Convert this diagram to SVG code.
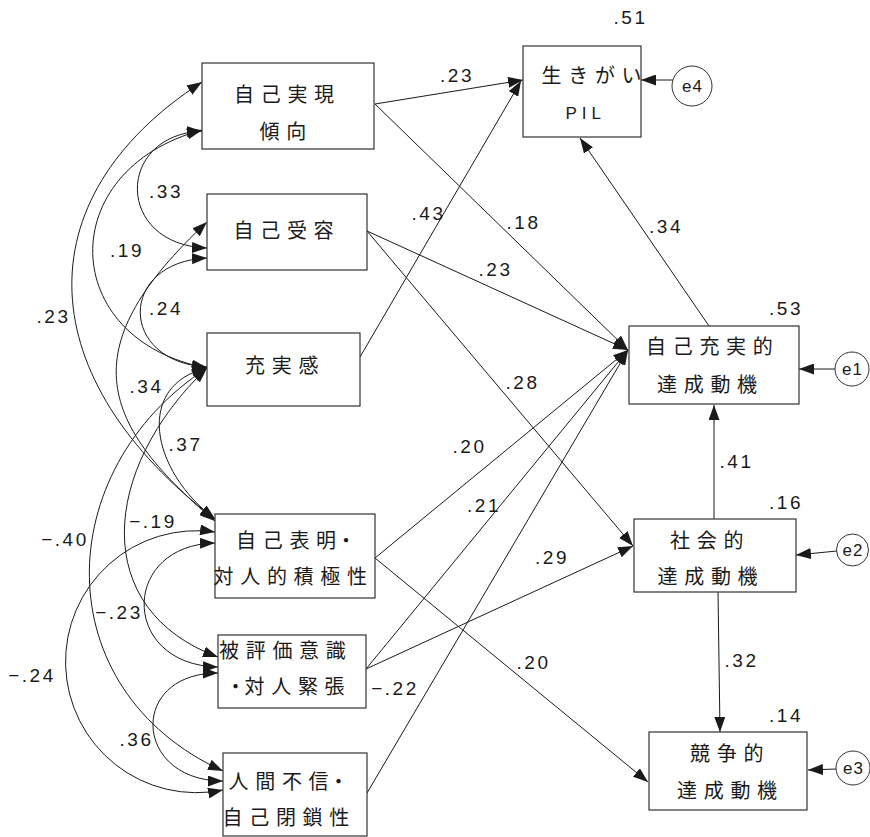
<svg xmlns="http://www.w3.org/2000/svg" width="870" height="837" viewBox="0 0 870 837">
<style>
.box{fill:#fff;stroke:#333;stroke-width:1.2}
.n{font-family:"Liberation Sans","Noto Sans CJK JP",sans-serif;font-size:20px;letter-spacing:6.7px;fill:#1a1a1a}
.lat{font-family:"Liberation Sans",Arial,sans-serif;font-size:17px;letter-spacing:5px;fill:#1a1a1a}
.lbl{font-family:"Liberation Sans",Arial,sans-serif;font-size:19px;letter-spacing:2.5px;text-anchor:middle;fill:#1a1a1a}
.e{font-family:"Liberation Sans",Arial,sans-serif;font-size:17px;letter-spacing:1px;text-anchor:middle;fill:#1a1a1a}
.err{fill:#fff;stroke:#333;stroke-width:1}
.c{fill:none;stroke:#1a1a1a;stroke-width:1}
.d{marker-start:url(#ah);marker-end:url(#ah)}
.a{marker-end:url(#ah)}
.t0{letter-spacing:0}
.tm{letter-spacing:-1px}
</style>
<defs>
<marker id="ah" markerUnits="userSpaceOnUse" markerWidth="15" markerHeight="11" refX="15" refY="5.5" orient="auto-start-reverse" viewBox="0 0 15 11">
<path d="M0,0 L15,5.5 L0,11 z" fill="#1a1a1a"/>
</marker>
</defs>
<rect width="870" height="837" fill="#fff"/>

<g id="connectors">
<!-- correlations -->
<path class="c d" d="M202,131 C115,135 115,245 207,248"/>
<path class="c d" d="M207,258 C118,262 118,362 207,367"/>
<path class="c d" d="M202,130 C53,170 58,340 207,368"/>
<path class="c d" d="M202,82 C20,200 33,380 215,519"/>
<path class="c d" d="M207,222 C75,345 95,420 215,521"/>
<path class="c d" d="M207,368 C135,385 150,470 215,519"/>
<path class="c d" d="M207,368 C100,470 90,610 218,657"/>
<path class="c d" d="M207,368 C50,470 45,690 223,771"/>
<path class="c d" d="M215,543 C120,545 120,665 218,667"/>
<path class="c d" d="M215,532 A131,131 0 1 0 223,790"/>
<path class="c d" d="M218,673 C128,673 133,781 223,781"/>
<!-- paths -->
<path class="c a" d="M375,104 L523,80"/>
<path class="c a" d="M375,104 L628,350"/>
<path class="c a" d="M367,231 L628,350"/>
<path class="c a" d="M367,231 L633,546"/>
<path class="c a" d="M360,357 L521,81"/>
<path class="c a" d="M709,326 L580,138"/>
<path class="c a" d="M714,519 L714,405"/>
<path class="c a" d="M718,592 L720,732"/>
<path class="c a" d="M375,558 L628,350"/>
<path class="c a" d="M375,558 L648,782"/>
<path class="c a" d="M366,669 L628,350"/>
<path class="c a" d="M366,669 L633,546"/>
<path class="c a" d="M367,793 L628,350"/>
<path class="c a" d="M673,80 L641,80"/>
<path class="c a" d="M835,369 L799,369"/>
<path class="c a" d="M837,551 L796,555"/>
<path class="c a" d="M836,769 L808,770"/>
</g>

<g id="n_jikojitsugen">
<rect class="box" x="202" y="63" width="172" height="86"/>
<text class="n" x="234" y="102">自己実現</text>
<text class="n" x="259.5" y="139">傾向</text>
</g>
<g id="n_jikojuyou">
<rect class="box" x="207" y="194" width="160" height="76"/>
<text class="n" x="233.5" y="238">自己受容</text>
</g>
<g id="n_juujitsukan">
<rect class="box" x="207" y="333" width="153" height="73"/>
<text class="n" x="245" y="373">充実感</text>
</g>
<g id="n_jikohyoumei">
<rect class="box" x="215" y="514" width="160" height="84"/>
<text class="n" x="236" y="548">自己表<tspan class="t0">明</tspan>・</text>
<text class="n" x="213.5" y="584">対人的積極性</text>
</g>
<g id="n_hihyouka">
<rect class="box" x="218" y="635" width="148" height="73"/>
<text class="n" x="219" y="658">被評価意識</text>
<text class="n" x="225.5" y="694"><tspan class="tm">・</tspan>対人緊張</text>
</g>
<g id="n_ningenfushin">
<rect class="box" x="223" y="753" width="144" height="83"/>
<text class="n" x="228.5" y="789">人間不<tspan class="t0">信</tspan>・</text>
<text class="n" x="222.5" y="825">自己閉鎖性</text>
</g>
<g id="n_ikigai">
<rect class="box" x="523" y="46" width="118" height="91"/>
<text class="n" x="541.5" y="83">生きがい</text>
<text class="lat" x="565.5" y="119">PIL</text>
</g>
<g id="n_jikojuujitsu">
<rect class="box" x="629" y="326" width="170" height="78"/>
<text class="n" x="646" y="354">自己充実的</text>
<text class="n" x="657" y="392">達成動機</text>
</g>
<g id="n_shakaiteki">
<rect class="box" x="634" y="519" width="162" height="73"/>
<text class="n" x="670" y="548">社会的</text>
<text class="n" x="657.5" y="584">達成動機</text>
</g>
<g id="n_kyousouteki">
<rect class="box" x="649" y="732" width="158" height="78"/>
<text class="n" x="690" y="761">競争的</text>
<text class="n" x="677" y="798">達成動機</text>
</g>
<g id="e4">
<circle class="err" cx="692" cy="86" r="20"/>
<text class="e" x="692.5" y="92">e4</text>
</g>
<g id="e1">
<circle class="err" cx="852" cy="369" r="17"/>
<text class="e" x="852.5" y="375">e1</text>
</g>
<g id="e2">
<circle class="err" cx="852.5" cy="550" r="16"/>
<text class="e" x="853" y="556">e2</text>
</g>
<g id="e3">
<circle class="err" cx="853" cy="768" r="17"/>
<text class="e" x="853.5" y="774">e3</text>
</g>

<g id="labels">
<text class="lbl" x="630.5" y="24">.51</text>
<text class="lbl" x="457" y="82">.23</text>
<text class="lbl" x="523.5" y="229">.18</text>
<text class="lbl" x="666" y="233">.34</text>
<text class="lbl" x="495.5" y="276">.23</text>
<text class="lbl" x="786" y="315">.53</text>
<text class="lbl" x="522.5" y="389">.28</text>
<text class="lbl" x="428.5" y="220">.43</text>
<text class="lbl" x="166" y="198">.33</text>
<text class="lbl" x="127" y="257">.19</text>
<text class="lbl" x="53.5" y="323">.23</text>
<text class="lbl" x="166" y="315">.24</text>
<text class="lbl" x="146.5" y="393">.34</text>
<text class="lbl" x="185.5" y="451">.37</text>
<text class="lbl" x="153" y="528">−.19</text>
<text class="lbl" x="65" y="546">−.40</text>
<text class="lbl" x="119" y="619">−.23</text>
<text class="lbl" x="32" y="682">−.24</text>
<text class="lbl" x="136.5" y="746">.36</text>
<text class="lbl" x="395" y="695">−.22</text>
<text class="lbl" x="469.5" y="453">.20</text>
<text class="lbl" x="484" y="512">.21</text>
<text class="lbl" x="552" y="564">.29</text>
<text class="lbl" x="533.5" y="669">.20</text>
<text class="lbl" x="736.5" y="468">.41</text>
<text class="lbl" x="786" y="509">.16</text>
<text class="lbl" x="741.5" y="667">.32</text>
<text class="lbl" x="786" y="722">.14</text>
</g>
</svg>
